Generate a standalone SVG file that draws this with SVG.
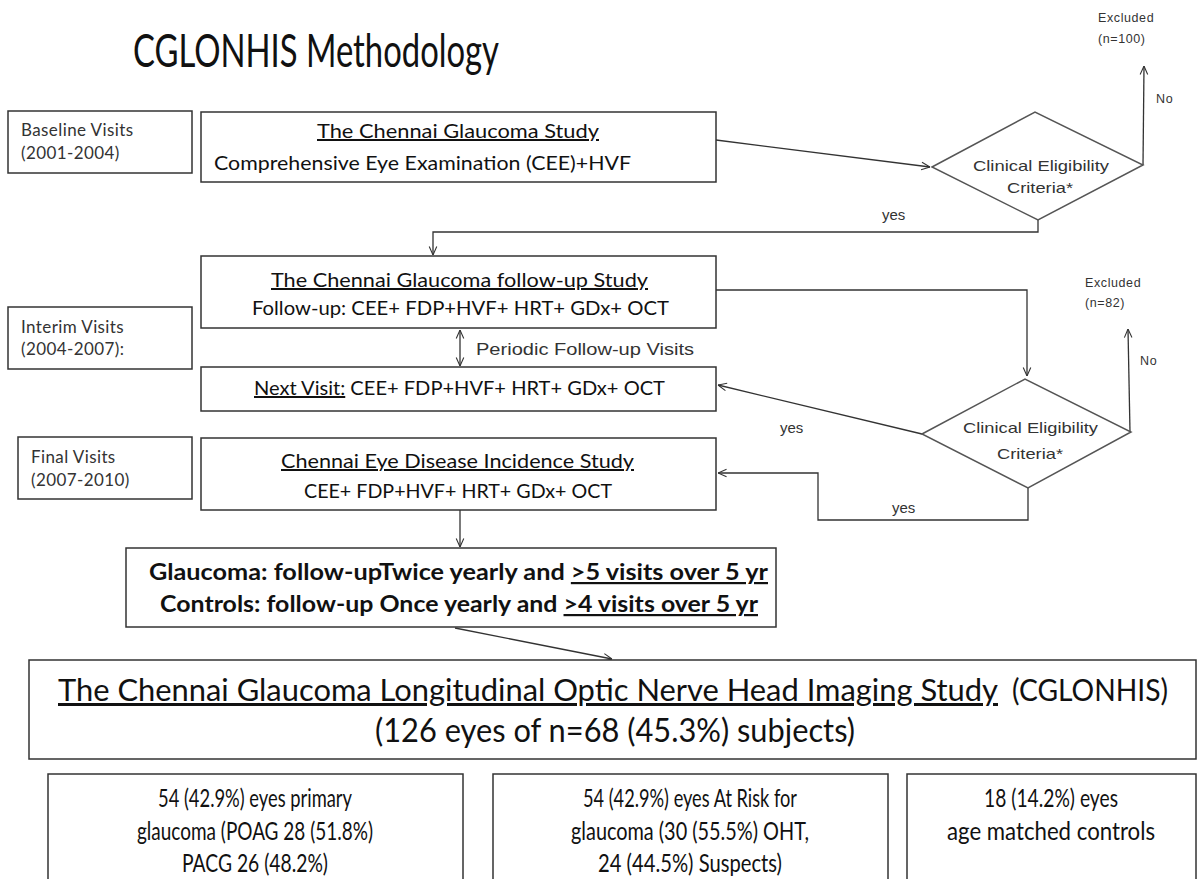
<svg xmlns="http://www.w3.org/2000/svg" width="1200" height="879" viewBox="0 0 1200 879">
<defs>
<style>
.box{fill:#fff;stroke:#333;stroke-width:1.5}
.dia{fill:#fff;stroke:#555;stroke-width:1.5}
.ln{fill:none;stroke:#333;stroke-width:1.3}
.cal{font-family:Lato,"Open Sans","Liberation Sans",sans-serif;fill:#111}
.ari{font-family:"Liberation Sans",Arial,sans-serif;fill:#333}
.lab{font-family:Lato,"Open Sans","Liberation Sans",sans-serif;fill:#333;font-size:17px;letter-spacing:0.4px}
.sm{font-family:"Liberation Sans",Arial,sans-serif;fill:#333;font-size:12.5px;letter-spacing:0.6px}
.u{text-decoration:underline}
</style>
<marker id="ah" viewBox="0 0 10 10" refX="10" refY="5" markerWidth="9" markerHeight="10" markerUnits="userSpaceOnUse" orient="auto-start-reverse">
<path d="M0.5,0.8 L10,5 L0.5,9.2" fill="none" stroke="#333" stroke-width="1.2"/>
</marker>
</defs>
<rect width="1200" height="879" fill="#fff"/>

<text id="title" class="cal" x="133" y="67" font-size="47" textLength="366" lengthAdjust="spacingAndGlyphs">CGLONHIS Methodology</text>

<g id="connectors">
<line class="ln" x1="716" y1="140" x2="930" y2="167" marker-end="url(#ah)"/>
<line class="ln" x1="1143" y1="165" x2="1144" y2="66" marker-end="url(#ah)"/>
<polyline class="ln" points="1038,220 1038,232 433,232 433,255" marker-end="url(#ah)"/>
<line class="ln" x1="460" y1="330" x2="460" y2="366" marker-start="url(#ah)" marker-end="url(#ah)"/>
<polyline class="ln" points="716,290 1027,290 1027,376" marker-end="url(#ah)"/>
<line class="ln" x1="1130" y1="432" x2="1128" y2="329" marker-end="url(#ah)"/>
<line class="ln" x1="922" y1="434" x2="718" y2="385" marker-end="url(#ah)"/>
<polyline class="ln" points="1028,488 1028,520 818,520 818,473 718,473" marker-end="url(#ah)"/>
<line class="ln" x1="460" y1="510" x2="460" y2="547" marker-end="url(#ah)"/>
<line class="ln" x1="455" y1="628" x2="612" y2="659" marker-end="url(#ah)"/>
<text class="ari" x="882" y="220" font-size="15">yes</text>
<text class="ari" x="780" y="433" font-size="15">yes</text>
<text class="ari" x="892" y="513" font-size="15">yes</text>
<text class="sm" x="1156" y="103">No</text>
<text class="sm" x="1140" y="365">No</text>
<text class="ari" x="476" y="355" font-size="16" textLength="218" lengthAdjust="spacingAndGlyphs">Periodic Follow-up Visits</text>
</g>

<g id="excluded1">
<text class="sm" x="1098" y="22">Excluded</text>
<text class="sm" x="1098" y="43">(n=100)</text>
</g>
<g id="excluded2">
<text class="sm" x="1085" y="287">Excluded</text>
<text class="sm" x="1085" y="307">(n=82)</text>
</g>

<g id="baseline">
<rect class="box" x="8" y="111" width="184" height="62"/>
<text class="lab" x="21" y="136">Baseline Visits</text>
<text class="lab" x="21" y="159">(2001-2004)</text>
</g>
<g id="interim">
<rect class="box" x="8" y="307" width="184" height="62"/>
<text class="lab" x="21" y="333">Interim  Visits</text>
<text class="lab" x="21" y="355">(2004-2007):</text>
</g>
<g id="final">
<rect class="box" x="18" y="437" width="174" height="62"/>
<text class="lab" x="31" y="463">Final  Visits</text>
<text class="lab" x="31" y="486">(2007-2010)</text>
</g>

<g id="cgs">
<rect class="box" x="201" y="112" width="515" height="70"/>
<text class="cal u" x="317" y="138" font-size="20" textLength="282" lengthAdjust="spacingAndGlyphs">The Chennai Glaucoma Study</text>
<text class="cal" x="214" y="170" font-size="20" textLength="417" lengthAdjust="spacingAndGlyphs">Comprehensive Eye Examination (CEE)+HVF</text>
</g>

<g id="cgfs">
<rect class="box" x="201" y="256" width="515" height="72"/>
<text class="cal u" x="271" y="287" font-size="20" textLength="377" lengthAdjust="spacingAndGlyphs">The Chennai Glaucoma follow-up Study</text>
<text class="cal" x="252" y="315" font-size="20" textLength="417" lengthAdjust="spacingAndGlyphs">Follow-up: CEE+ FDP+HVF+ HRT+ GDx+ OCT</text>
</g>

<g id="nextvisit">
<rect class="box" x="201" y="367" width="515" height="44"/>
<text class="cal" x="254" y="395" font-size="20" textLength="411" lengthAdjust="spacingAndGlyphs"><tspan class="u">Next Visit:</tspan> CEE+ FDP+HVF+ HRT+ GDx+ OCT</text>
</g>

<g id="cedis">
<rect class="box" x="201" y="438" width="515" height="72"/>
<text class="cal u" x="281" y="468" font-size="20" textLength="353" lengthAdjust="spacingAndGlyphs">Chennai Eye Disease Incidence Study</text>
<text class="cal" x="304" y="498" font-size="20" textLength="308" lengthAdjust="spacingAndGlyphs">CEE+ FDP+HVF+ HRT+ GDx+ OCT</text>
</g>

<g id="criteria1">
<polygon class="dia" points="932,167 1035,112 1143,165 1038,220"/>
<text class="ari" x="973" y="171" font-size="15" textLength="136" lengthAdjust="spacingAndGlyphs">Clinical Eligibility</text>
<text class="ari" x="1007" y="193" font-size="15" textLength="66" lengthAdjust="spacingAndGlyphs">Criteria*</text>
</g>

<g id="criteria2">
<polygon class="dia" points="922,434 1025,379 1131,432 1028,488"/>
<text class="ari" x="963" y="433" font-size="15" textLength="135" lengthAdjust="spacingAndGlyphs">Clinical Eligibility</text>
<text class="ari" x="997" y="459" font-size="15" textLength="66" lengthAdjust="spacingAndGlyphs">Criteria*</text>
</g>

<g id="followup">
<rect class="box" x="126" y="548" width="650" height="79"/>
<text class="cal" x="149" y="580" font-size="22" font-weight="bold" textLength="619" lengthAdjust="spacingAndGlyphs">Glaucoma: follow-upTwice yearly and <tspan class="u">&gt;5 visits over 5 yr</tspan></text>
<text class="cal" x="160" y="612" font-size="22" font-weight="bold" textLength="598" lengthAdjust="spacingAndGlyphs">Controls: follow-up Once yearly and <tspan class="u">&gt;4 visits over 5 yr</tspan></text>
</g>

<g id="cglonhis">
<rect class="box" x="29" y="660" width="1167" height="99"/>
<text class="cal u" x="58" y="701" font-size="30" textLength="940" lengthAdjust="spacingAndGlyphs">The Chennai Glaucoma Longitudinal Optic Nerve Head Imaging Study</text>
<text class="cal" x="1012" y="701" font-size="30" textLength="156" lengthAdjust="spacingAndGlyphs">(CGLONHIS)</text>
<text class="cal" x="375" y="742" font-size="32" textLength="480" lengthAdjust="spacingAndGlyphs">(126 eyes of n=68 (45.3%) subjects)</text>
</g>

<g id="primary">
<rect class="box" x="48" y="774" width="415" height="115"/>
<text class="cal" x="255" y="807" font-size="25" text-anchor="middle" textLength="194" lengthAdjust="spacingAndGlyphs">54 (42.9%) eyes primary</text>
<text class="cal" x="255" y="840" font-size="25" text-anchor="middle" textLength="236" lengthAdjust="spacingAndGlyphs">glaucoma (POAG 28 (51.8%)</text>
<text class="cal" x="255" y="872" font-size="25" text-anchor="middle" textLength="146" lengthAdjust="spacingAndGlyphs">PACG 26 (48.2%)</text>
</g>
<g id="atrisk">
<rect class="box" x="493" y="774" width="395" height="115"/>
<text class="cal" x="690" y="807" font-size="25" text-anchor="middle" textLength="214" lengthAdjust="spacingAndGlyphs">54  (42.9%) eyes At Risk for</text>
<text class="cal" x="690" y="840" font-size="25" text-anchor="middle" textLength="238" lengthAdjust="spacingAndGlyphs">glaucoma (30 (55.5%) OHT,</text>
<text class="cal" x="690" y="872" font-size="25" text-anchor="middle" textLength="184" lengthAdjust="spacingAndGlyphs">24 (44.5%) Suspects)</text>
</g>
<g id="controls">
<rect class="box" x="907" y="774" width="289" height="115"/>
<text class="cal" x="1051" y="807" font-size="25" text-anchor="middle" textLength="134" lengthAdjust="spacingAndGlyphs">18 (14.2%) eyes</text>
<text class="cal" x="1051" y="840" font-size="25" text-anchor="middle" textLength="208" lengthAdjust="spacingAndGlyphs">age matched controls</text>
</g>
</svg>
